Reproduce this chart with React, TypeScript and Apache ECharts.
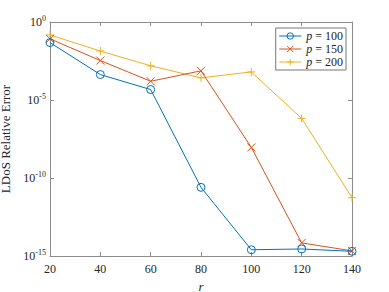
import React, { useEffect, useRef } from "react";
import * as echarts from "echarts";

const rValues = [20, 40, 60, 80, 100, 120, 140];
const seriesNames = ["100", "150", "200"];
const logErr100 = [-1.32, -3.37, -4.33, -10.6, -14.6, -14.55, -14.7];
const logErr150 = [-1.08, -2.47, -3.8, -3.13, -8.04, -14.16, -14.67];
const logErr200 = [-0.83, -1.86, -2.81, -3.58, -3.2, -6.18, -11.26];
const yTicksExp = [0, -5, -10, -15];
const colors = ["#0072BD", "#D95319", "#EDB120"];
const symbols = [
  "path://M10,5A5,5,0,1,1,0,5A5,5,0,1,1,10,5Z",
  "path://M0,0L10,10M10,0L0,10",
  "path://M5,0L5,10M0,5L10,5",
];

const FONT = "Times New Roman, Liberation Serif, serif";
const AXIS = "#8c8c8c";

export default function App() {
  const ref = useRef<HTMLDivElement>(null);
  useEffect(() => {
    const chart = echarts.init(ref.current!, null, { renderer: "svg" });
    const all = [logErr100, logErr150, logErr200];
    const axisCommon = {
      axisLine: { show: true, lineStyle: { color: AXIS, width: 1 } },
      axisTick: { show: true, inside: true, length: 4, lineStyle: { color: AXIS } },
      splitLine: { show: false },
    };
    chart.setOption({
      animation: false,
      textStyle: { fontFamily: FONT },
      grid: { left: 50, right: 37, top: 22, bottom: 36, containLabel: false, outerBoundsMode: "none" },
      legend: {
        orient: "vertical",
        right: 43,
        top: 28,
        itemWidth: 22,
        itemHeight: 8,
        itemGap: 1,
        padding: [2, 3, 2, 3],
        backgroundColor: "#fff",
        borderColor: "#777",
        borderWidth: 1,
        borderRadius: 0,
        itemStyle: { borderWidth: 1, color: "none" },
        lineStyle: { width: 1 },
        textStyle: {
          fontFamily: FONT,
          fontSize: 12,
          color: "#222",
          rich: {
            i: { fontStyle: "italic", fontFamily: FONT, fontSize: 12, color: "#222" },
            t: { fontFamily: FONT, fontSize: 12, color: "#222" },
          },
        },
        formatter: (name: string) => "{i|p}{t| = " + name + "}",
        data: seriesNames,
      },
      xAxis: [
        {
          type: "value",
          min: 20,
          max: 140,
          interval: 20,
          position: "bottom",
          ...axisCommon,
          axisLabel: { color: "#262626", fontSize: 12, fontFamily: FONT, margin: 7 },
          name: "r",
          nameLocation: "middle",
          nameGap: 19,
          nameTextStyle: { fontStyle: "italic", fontSize: 13, fontFamily: FONT, color: "#262626" },
        },
        {
          type: "value",
          min: 20,
          max: 140,
          interval: 20,
          position: "top",
          ...axisCommon,
          axisLabel: { show: false },
        },
      ],
      yAxis: [
        {
          type: "log",
          logBase: 10,
          min: Math.pow(10, yTicksExp[yTicksExp.length - 1]),
          max: Math.pow(10, yTicksExp[0]),
          interval: 5,
          position: "left",
          ...axisCommon,
          axisLabel: {
            color: "#262626",
            fontSize: 12,
            fontFamily: FONT,
            margin: 4,
            formatter: (v: number) => {
              const e = Math.round(Math.log10(v));
              return "{b|10}{s|" + e + "}";
            },
            rich: {
              b: { fontSize: 12, fontFamily: FONT, color: "#262626" },
              s: { fontSize: 8, fontFamily: FONT, verticalAlign: "top", padding: [0, 0, 8, 0], color: "#262626" },
            },
          },
          name: "LDoS Relative Error",
          nameLocation: "middle",
          nameGap: 30,
          nameTextStyle: { fontSize: 13, fontFamily: FONT, color: "#262626" },
        },
        {
          type: "log",
          logBase: 10,
          min: Math.pow(10, yTicksExp[yTicksExp.length - 1]),
          max: Math.pow(10, yTicksExp[0]),
          interval: 5,
          position: "right",
          ...axisCommon,
          axisLabel: { show: false },
        },
      ],
      series: seriesNames.map((n, i) => ({
        name: n,
        type: "line",
        xAxisIndex: 0,
        yAxisIndex: 0,
        data: rValues.map((r, j) => [r, Math.pow(10, all[i][j])]),
        symbol: symbols[i],
        symbolSize: 8,
        showAllSymbol: true,
        lineStyle: { color: colors[i], width: 1 },
        itemStyle: {
          color: "none",
          borderColor: colors[i],
          borderWidth: 1,
        },
        color: colors[i],
        z: 3 - i,
      })),
    });
    return () => chart.dispose();
  }, []);
  return <div ref={ref} style={{ width: 389, height: 292, position: "absolute", left: 0, top: 0, background: "#fff" }} />;
}
